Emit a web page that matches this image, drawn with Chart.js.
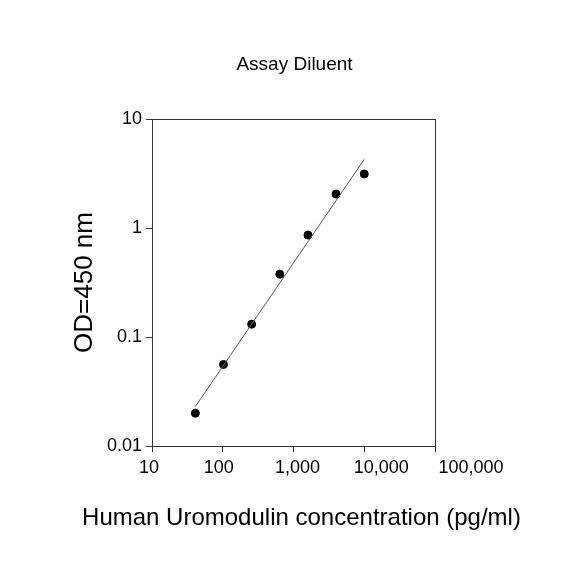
<!DOCTYPE html>
<html>
<head>
<meta charset="utf-8">
<script src="https://cdn.jsdelivr.net/npm/chart.js@4.4.1/dist/chart.umd.min.js"></script>
<style>
html,body{margin:0;padding:0;background:#fff;}
#wrap{width:584px;height:584px;}
</style>
</head>
<body>
<div id="wrap"><canvas id="c" width="584" height="584"></canvas></div>
<script>
// Data
const concentration = [41, 102.4, 256, 640, 1600, 4000, 10000];
const odValues = [0.020, 0.056, 0.131, 0.377, 0.861, 2.05, 3.13];
const fitX = [41, 10000];
const fitY = [0.023, 4.27];
const xTickValues = [10, 100, 1000, 10000, 100000];
const xTickLabels = ['10', '100', '1,000', '10,000', '100,000'];
const yTickValues = [0.01, 0.1, 1, 10];
const yTickLabels = ['0.01', '0.1', '1', '10'];
const chartTitle = 'Assay Diluent';
const xTitle = 'Human Uromodulin concentration (pg/ml)';
const yTitle = 'OD=450 nm';

const FONT = '"Liberation Sans", Arial, sans-serif';
// horizontal nudges of the x tick labels, as laid out in the reference
const X_LABEL_NUDGE = [-3, -4, 4, 17, 36];

const framePlugin = {
  id: 'frame',
  afterDraw(chart) {
    const a = chart.chartArea, ctx = chart.ctx;
    const xs = chart.scales.x;
    ctx.save();
    ctx.strokeStyle = '#333';
    ctx.lineWidth = 1;
    ctx.strokeRect(Math.round(a.left) + 0.5, Math.round(a.top) + 0.5,
                   Math.round(a.right - a.left), Math.round(a.bottom - a.top));
    ctx.fillStyle = '#000';
    ctx.textAlign = 'center';
    ctx.textBaseline = 'middle';
    // x tick labels
    ctx.font = '18px ' + FONT;
    xTickValues.forEach((v, i) => {
      ctx.fillText(xTickLabels[i], xs.getPixelForValue(v) + X_LABEL_NUDGE[i], a.bottom + 22);
    });
    // chart title centred over the plot area
    const cx = (a.left + a.right) / 2;
    ctx.font = '19px ' + FONT;
    ctx.fillText(chartTitle, cx + 1, a.top - 54);
    // x axis title
    ctx.font = '24px ' + FONT;
    ctx.fillText(xTitle, cx + 8, a.bottom + 72);
    ctx.restore();
  }
};

new Chart(document.getElementById('c'), {
  type: 'scatter',
  data: {
    datasets: [
      {
        label: 'fit',
        type: 'line',
        data: fitX.map((x, i) => ({x: x, y: fitY[i]})),
        borderColor: '#555',
        borderWidth: 1,
        pointRadius: 0,
        fill: false,
        tension: 0
      },
      {
        label: 'OD',
        data: concentration.map((x, i) => ({x: x, y: odValues[i]})),
        backgroundColor: '#000',
        borderColor: '#000',
        pointRadius: 4,
        pointHoverRadius: 4
      }
    ]
  },
  options: {
    responsive: false,
    animation: false,
    events: [],
    layout: {padding: {left: 0, right: 149, top: 119, bottom: 0}},
    plugins: {
      legend: {display: false},
      tooltip: {enabled: false},
      title: {display: false}
    },
    scales: {
      x: {
        type: 'logarithmic',
        min: 10,
        max: 100000,
        afterBuildTicks(scale) { scale.ticks = xTickValues.map(v => ({value: v})); },
        afterFit(scale) { scale.height = 138; },
        ticks: {
          display: false,
          autoSkip: false,
          maxRotation: 0
        },
        grid: {display: true, drawOnChartArea: false, drawTicks: true, tickLength: 6, color: '#333'},
        border: {display: true, color: '#333'},
        title: {display: false}
      },
      y: {
        type: 'logarithmic',
        min: 0.01,
        max: 10,
        afterBuildTicks(scale) { scale.ticks = yTickValues.map(v => ({value: v})); },
        afterFit(scale) { scale.width = 152; },
        ticks: {
          color: '#000',
          font: {family: FONT, size: 18},
          padding: 4,
          autoSkip: false,
          callback(value) { const i = yTickValues.indexOf(value); return i >= 0 ? yTickLabels[i] : ''; }
        },
        grid: {display: true, drawOnChartArea: false, drawTicks: true, tickLength: 6, color: '#333'},
        border: {display: true, color: '#333'},
        title: {
          display: true,
          text: yTitle,
          color: '#000',
          font: {family: FONT, size: 26, lineHeight: 1.2},
          padding: {top: 69, bottom: 0}
        }
      }
    }
  },
  plugins: [framePlugin]
});
</script>
</body>
</html>
